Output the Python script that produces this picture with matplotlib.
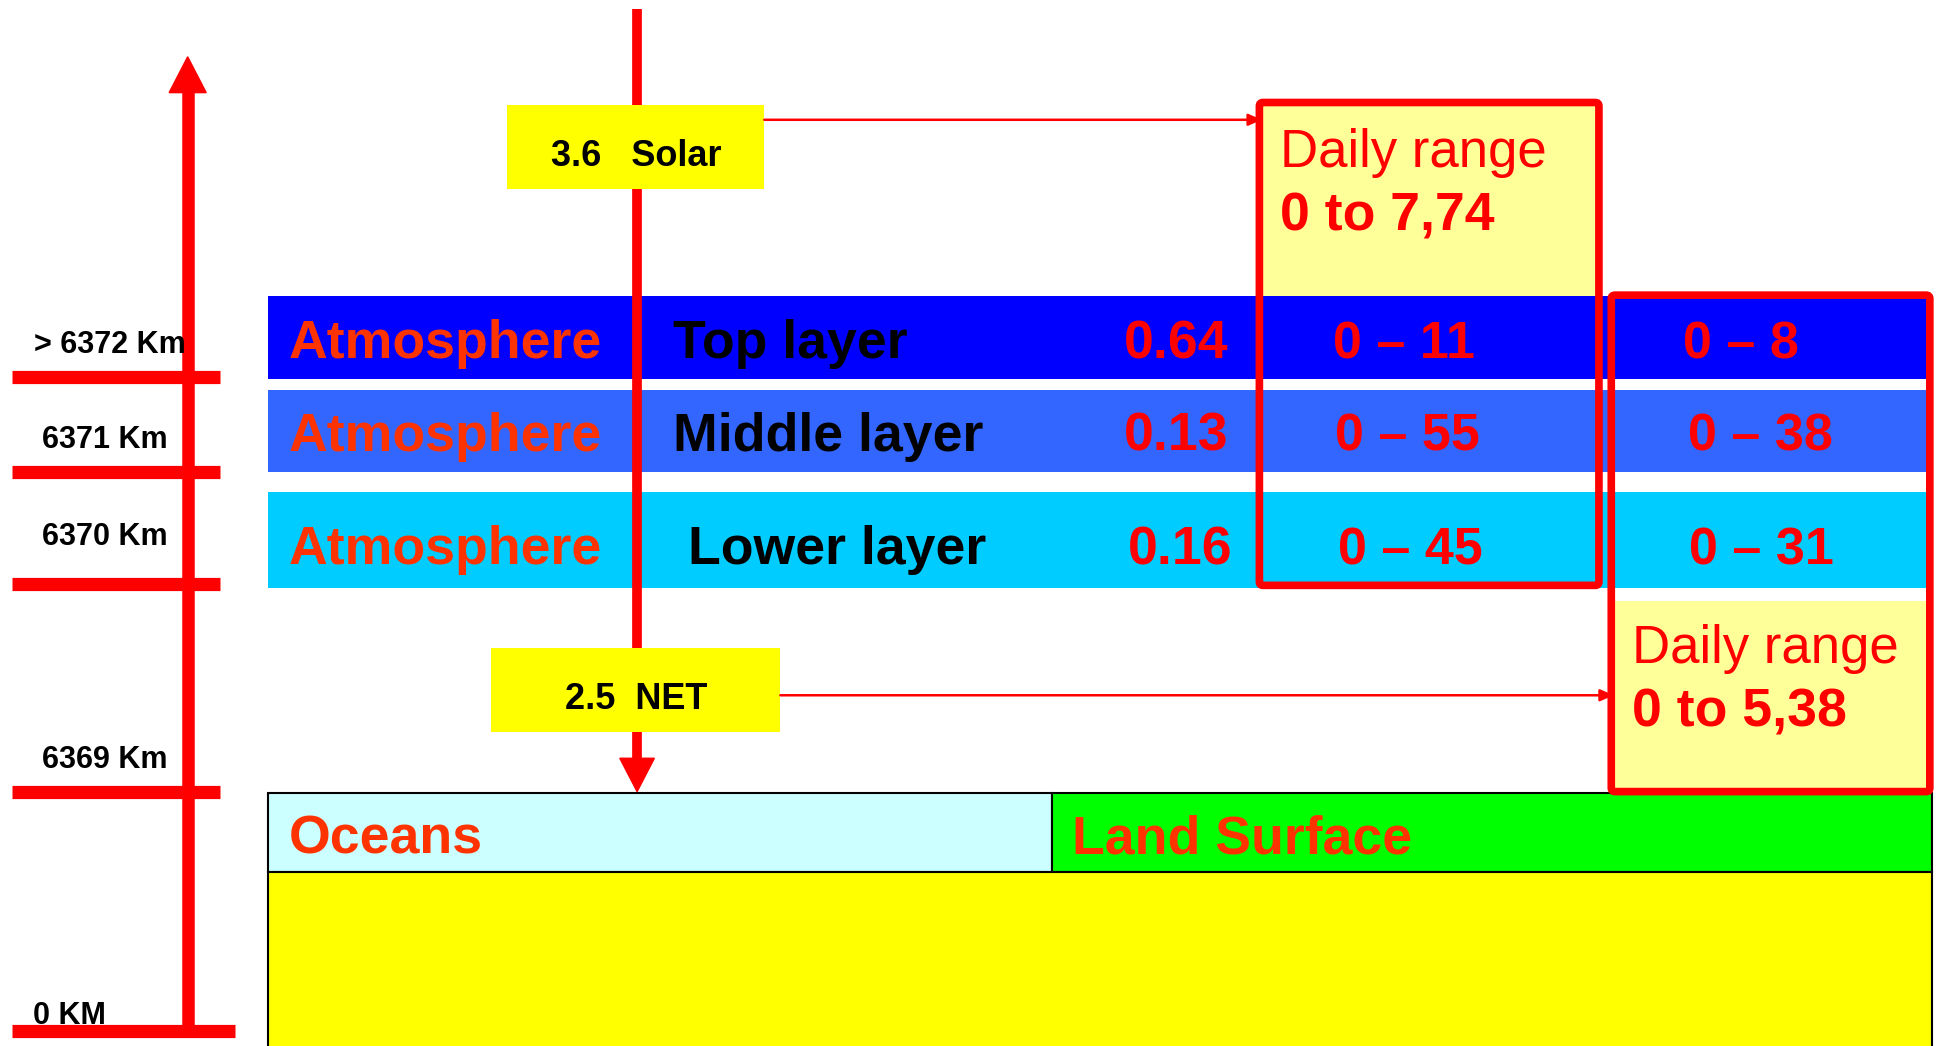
import matplotlib.pyplot as plt
from matplotlib.patches import Rectangle, Polygon, FancyBboxPatch

plt.rcParams['font.family'] = ['Liberation Sans', 'DejaVu Sans']

# values shown on the diagram
altitude_labels = ['> 6372 Km', '6371 Km', '6370 Km', '6369 Km', '0 KM']
layer_names = ['Top layer', 'Middle layer', 'Lower layer']
layer_values = ['0.64', '0.13', '0.16']
ocean_ranges = ['0 – 11', '0 – 55', '0 – 45']
land_ranges = ['0 – 8', '0 – 38', '0 – 31']
solar_flux = '3.6   Solar'
net_flux = '2.5  NET'
ocean_daily = '0 to 7,74'
land_daily = '0 to 5,38'
surfaces = ['Oceans', 'Land Surface']

# layout (in the 1568 x 847 drawing space)
W, H = 1568, 847
tick_y = [305, 382, 473, 641, 835]
label_x = [89, 85, 85, 85, 56]
label_base = [286, 363, 441, 622, 829]
band_top = [240, 316, 398]
band_bot = [307, 382, 476]
band_base = [290, 365, 457]
band_colors = ['#0000FF', '#3366FF', '#00CCFF']
name_x = [545, 545, 557]
value_x = [995, 995, 998]
ocean_x = [1137, 1140, 1142]
land_x = [1410, 1426, 1427]

ORANGE = '#FF3300'
RED = '#FF0000'
PALE = '#FFFF99'
BIG = 38.6


def main():
    fig = plt.figure(figsize=(19.36, 10.46), dpi=100)
    ax = fig.add_axes([0, 0, 1, 1])
    ax.set_xlim(0, W)
    ax.set_ylim(H, 0)
    ax.axis('off')

    # altitude scale on the left
    ax.plot([152, 152], [835, 72], color=RED, lw=9, solid_capstyle='butt', zorder=3)
    ax.add_patch(Polygon([[137, 75], [167, 75], [152, 46]], closed=True, color=RED, zorder=3))
    for i, y in enumerate(tick_y):
        x_end = 190 if i == len(tick_y) - 1 else 178
        ax.plot([10, x_end], [y, y], color=RED, lw=9.5, solid_capstyle='butt', zorder=3)
    for x, y, lab in zip(label_x, label_base, altitude_labels):
        ax.text(x, y, lab, ha='center', va='baseline', fontsize=22, fontweight='bold', zorder=5)

    # pale fills inside the daily range boxes
    ax.add_patch(Rectangle((1020, 83), 275, band_top[0] - 83, facecolor=PALE, edgecolor='none', zorder=0.5))
    ax.add_patch(Rectangle((1305, 487), 258, 154, facecolor=PALE, edgecolor='none', zorder=0.5))

    # atmosphere bands
    for i in range(3):
        ax.add_patch(Rectangle((217, band_top[i]), 1563 - 217, band_bot[i] - band_top[i],
                               facecolor=band_colors[i], edgecolor='none', zorder=1))
        ax.text(234, band_base[i], 'Atmosphere', color=ORANGE, fontsize=BIG,
                fontweight='bold', va='baseline', zorder=5)
        ax.text(name_x[i], band_base[i], layer_names[i], color='black', fontsize=BIG,
                fontweight='bold', va='baseline', zorder=5)
        ax.text(value_x[i], band_base[i], layer_values[i], color=RED, fontsize=BIG,
                fontweight='bold', ha='right', va='baseline', zorder=5)
        ax.text(ocean_x[i], band_base[i], ocean_ranges[i], color=RED, fontsize=37.5,
                fontweight='bold', ha='center', va='baseline', zorder=5)
        ax.text(land_x[i], band_base[i], land_ranges[i], color=RED, fontsize=37.5,
                fontweight='bold', ha='center', va='baseline', zorder=5)

    # surface
    ax.add_patch(Rectangle((217, 642), 635, 64, facecolor='#CCFFFF', edgecolor='black', lw=1.5, zorder=1))
    ax.add_patch(Rectangle((852, 642), 713, 64, facecolor='#00FF00', edgecolor='black', lw=1.5, zorder=1))
    ax.add_patch(Rectangle((217, 706), 1348, 160, facecolor='#FFFF00', edgecolor='black', lw=1.5, zorder=1))
    ax.text(234, 691, surfaces[0], color=ORANGE, fontsize=BIG, fontweight='bold', va='baseline', zorder=5)
    ax.text(868, 691, surfaces[1], color=ORANGE, fontsize=BIG, fontweight='bold', va='baseline', zorder=5)

    # radiation going down
    ax.plot([516, 516], [7, 616], color=RED, lw=7, solid_capstyle='butt', zorder=2)
    ax.add_patch(Polygon([[502, 614], [530, 614], [516, 641]], closed=True, color=RED, zorder=2))

    ax.add_patch(Rectangle((411, 85), 208, 68, facecolor='#FFFF00', edgecolor='none', zorder=3))
    ax.text(515, 134.5, solar_flux, fontsize=26, fontweight='bold', ha='center', va='baseline', zorder=5)
    ax.add_patch(Rectangle((398, 525), 234, 68, facecolor='#FFFF00', edgecolor='none', zorder=3))
    ax.text(515, 574.5, net_flux, fontsize=26, fontweight='bold', ha='center', va='baseline', zorder=5)

    arrow = dict(arrowstyle='-|>,head_length=0.8,head_width=0.35', color=RED, lw=1.8,
                 shrinkA=0, shrinkB=0)
    ax.annotate('', xy=(1022, 97), xytext=(619, 97), arrowprops=arrow, zorder=4)
    ax.annotate('', xy=(1307, 563), xytext=(632, 563), arrowprops=arrow, zorder=4)

    # daily range boxes
    for x0, y0, w, h in [(1020, 83, 275, 391), (1305, 239, 258, 402)]:
        ax.add_patch(FancyBboxPatch((x0, y0), w, h, boxstyle='round,pad=0,rounding_size=3',
                                    facecolor='none', edgecolor=RED, lw=5.5, zorder=4))
    ax.text(1037, 135, 'Daily range', color=RED, fontsize=38, va='baseline', zorder=5)
    ax.text(1037, 187, ocean_daily, color=RED, fontsize=BIG, fontweight='bold', va='baseline', zorder=5)
    ax.text(1322, 537, 'Daily range', color=RED, fontsize=38, va='baseline', zorder=5)
    ax.text(1322, 588, land_daily, color=RED, fontsize=BIG, fontweight='bold', va='baseline', zorder=5)

    fig.savefig('out.png', dpi=100)


if __name__ == '__main__':
    main()
